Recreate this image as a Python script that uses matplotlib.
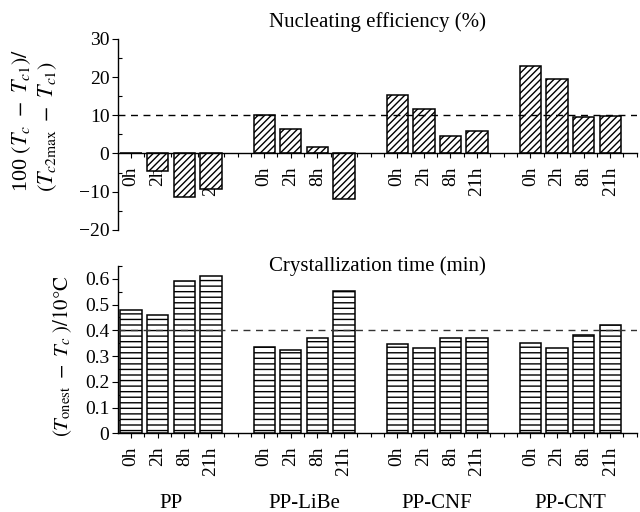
import matplotlib
matplotlib.use("Agg")
import matplotlib.pyplot as plt
import numpy as np

groups = ["PP", "PP-LiBe", "PP-CNF", "PP-CNT"]
times = ["0h", "2h", "8h", "21h"]
nucleating = [0.0, -4.7, -11.3, -9.3,
              10.1, 6.5, 1.7, -11.9,
              15.2, 11.6, 4.5, 5.9,
              22.8, 19.4, 9.6, 9.9]
cryst_time = [0.478, 0.461, 0.591, 0.613,
              0.335, 0.324, 0.370, 0.552,
              0.345, 0.331, 0.370, 0.370,
              0.351, 0.330, 0.383, 0.419]
ref_nuc = 10
ref_time = 0.4

plt.rcParams['font.family'] = ['Liberation Serif', 'DejaVu Serif']
plt.rcParams['mathtext.fontset'] = 'stix'
plt.rcParams['hatch.linewidth'] = 1.0

pos = np.array([g * 5 + j for g in range(len(groups)) for j in range(len(times))])
labels = times * len(groups)

fig = plt.figure(figsize=(6.4, 5.12), dpi=100)
ax1 = fig.add_axes([0.184, 0.551, 0.811, 0.373])
ax2 = fig.add_axes([0.184, 0.1537, 0.811, 0.3268])

fs_tick = 14
fs_title = 15
fs_ylab = 16

ax1.spines['bottom'].set_position(('data', 0))

for ax in (ax1, ax2):
    ax.set_axisbelow(True)
    ax.spines['top'].set_visible(False)
    ax.spines['right'].set_visible(False)
    ax.set_xlim(-0.5, 19)
    ax.set_xticks(pos)
    ax.set_xticks(np.arange(0, 19.01, 0.5), minor=True)
    ax.set_xticklabels(labels, rotation=90, fontsize=fs_tick)
    ax.tick_params(axis='x', which='major', direction='out', length=3.5, width=0.8, pad=6)
    ax.tick_params(axis='x', which='minor', direction='out', length=3, width=0.8)
    ax.tick_params(axis='y', which='major', direction='out', length=4, width=0.8, labelsize=fs_tick, pad=2)
    ax.tick_params(axis='y', which='minor', direction='in', length=3, width=0.8)
    for s in ('left', 'bottom'):
        ax.spines[s].set_linewidth(1.0)

ax1.bar(pos, nucleating, width=0.8, color='white', edgecolor='black',
        linewidth=1.1, hatch='/////', zorder=1)
ax1.axhline(ref_nuc, color='black', linestyle=(0, (5, 4)), linewidth=1.0, zorder=3)
ax1.set_ylim(-20, 30)
ax1.set_yticks([-20, -10, 0, 10, 20, 30])
ax1.set_yticklabels(['\u221220', '\u221210', '0', '10', '20', '30'])
ax1.set_yticks(np.arange(-20, 31, 5), minor=True)
ax1.text(0.5, 1.089, 'Nucleating efficiency (%)', transform=ax1.transAxes,
         ha='center', va='center', fontsize=fs_title)
ax1.text(-0.16, 0.571, '100 $(T_c\\ -\\ T_{c1})/$\n$(T_{c2\\max}\\ -\\ T_{c1})$',
         transform=ax1.transAxes, rotation=90, ha='center', va='center',
         fontsize=fs_ylab, linespacing=1.15, multialignment='left')

ax2.bar(pos, cryst_time, width=0.8, color='white', edgecolor='black',
        linewidth=1.1, hatch='---', zorder=1)
ax2.axhline(ref_time, color='#333333', linestyle=(0, (5, 4)), linewidth=1.0, zorder=3)
ax2.set_ylim(0, 0.65)
ax2.set_yticks([0, 0.1, 0.2, 0.3, 0.4, 0.5, 0.6])
ax2.set_yticklabels(['0', '0.1', '0.2', '0.3', '0.4', '0.5', '0.6'])
ax2.set_yticks(np.arange(0, 0.651, 0.05), minor=True)
ax2.text(0.5, 1.0, 'Crystallization time (min)', transform=ax2.transAxes,
         ha='center', va='center', fontsize=fs_title)
ax2.text(-0.107, 0.46, '$(T_{\\rm onest}\\ -\\ T_c\\ )/10°\\rm C$',
         transform=ax2.transAxes, rotation=90, ha='center', va='center',
         fontsize=15)

for g, name in enumerate(groups):
    ax2.text(g * 5 + 1.5, -0.419, name, transform=ax2.get_xaxis_transform(),
             ha='center', va='center', fontsize=fs_title)

fig.savefig('out.png', dpi=100)
